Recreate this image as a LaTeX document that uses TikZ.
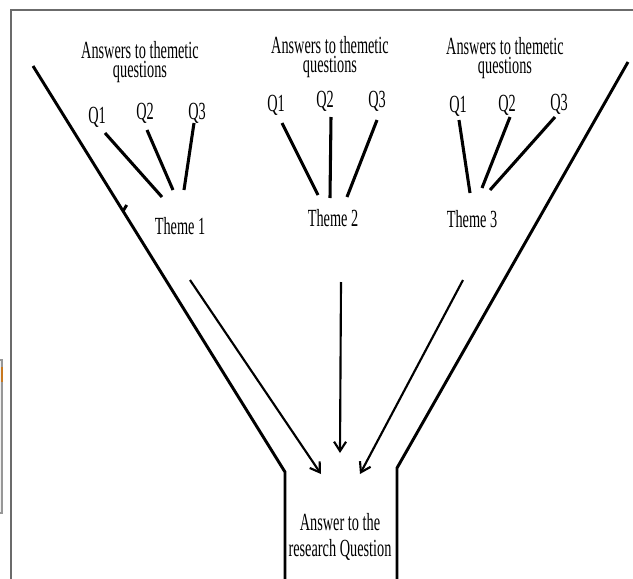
\documentclass[tikz,border=0pt]{standalone}
\usepackage{fontspec}
\setmainfont{Liberation Serif}[FakeStretch=0.58]
\usepackage{xcolor}
\usetikzlibrary{positioning, arrows.meta}
\definecolor{framegray}{HTML}{6B6B6B}
\definecolor{panelgray}{HTML}{F0F0F0}
\definecolor{panelmark}{HTML}{C8781E}
\tikzset{
  heading/.style={align=center, font=\fontsize{18.5}{14}\selectfont, inner sep=0pt},
  qtag/.style={anchor=base, font=\fontsize{18.5}{18.5}\selectfont, inner sep=0pt},
  theme/.style={anchor=base, font=\fontsize{18.5}{18.5}\selectfont, inner sep=0pt},
  answer/.style={align=center, font=\fontsize{18.5}{19}\selectfont, inner sep=0pt},
  funnel/.style={line width=2.2pt},
  qline/.style={line width=2.3pt},
  flow/.style={-{Straight Barb[length=7pt,width=9pt]}, line width=1.6pt},
  frame/.style={draw=framegray, line width=1.1pt},
}

\begin{document}
\begin{tikzpicture}[x=0.75pt, y=-0.75pt]
  \useasboundingbox (0,0) rectangle (633,579);

  % page frame and the edge of the panel beside it
  \draw[frame] (11,579) -- (11,10) -- (633,10);
  \draw[draw=framegray!70, fill=panelgray, line width=0.8pt] (-6,360) rectangle (2,513);
  \draw[panelmark, line width=1pt] (2,367) -- (2,382);

  % funnel walls
  \coordinate (ltop) at (33,66);
  \coordinate (lknee) at (285,472);
  \coordinate (lfoot) at (285,579);
  \coordinate (rtop) at (628,62);
  \coordinate (rknee) at (397,468);
  \coordinate (rfoot) at (397,579);
  \draw[funnel] (ltop) -- (lknee) -- (lfoot);
  \draw[funnel] (rtop) -- (rknee) -- (rfoot);
  \draw[funnel] (126.7,205) -- (123.3,210.7);

  % headings
  \node[heading] (head1) at (140,62) {Answers to themetic\\questions};
  \node[heading] (head2) at (330,57) {Answers to themetic\\questions};
  \node[heading] (head3) at (505,58) {Answers to themetic\\questions};

  % question tags
  \node[qtag] (q11) at (97,123) {Q1};
  \node[qtag] (q12) at (145,119) {Q2};
  \node[qtag] (q13) at (197,119) {Q3};
  \node[qtag] (q21) at (276,111) {Q1};
  \node[qtag] (q22) at (325,107) {Q2};
  \node[qtag] (q23) at (377,107) {Q3};
  \node[qtag] (q31) at (458,112) {Q1};
  \node[qtag] (q32) at (507,111) {Q2};
  \node[qtag] (q33) at (559,110) {Q3};

  % themes
  \node[theme] (th1) at (180,234) {Theme 1};
  \node[theme] (th2) at (333,226) {Theme 2};
  \node[theme] (th3) at (472,227) {Theme 3};

  % research question
  \node[answer] (ans) at (340,537) {Answer to the\\research Question};

  % questions into themes
  \draw[qline] ([shift={(8,10)}]q11.base) -- ([shift={(-18,-37)}]th1.base);
  \draw[qline] ([shift={(2,11)}]q12.base) -- ([shift={(-7,-44)}]th1.base);
  \draw[qline] ([shift={(-3,4)}]q13.base) -- ([shift={(4,-44)}]th1.base);
  \draw[qline] ([shift={(6,12)}]q21.base) -- ([shift={(-15,-31)}]th2.base);
  \draw[qline] ([shift={(6,10)}]q22.base) -- ([shift={(-3,-28)}]th2.base);
  \draw[qline] ([shift={(0,13)}]q23.base) -- ([shift={(14,-29)}]th2.base);
  \draw[qline] ([shift={(1,8)}]q31.base) -- ([shift={(-2,-34)}]th3.base);
  \draw[qline] ([shift={(3,6)}]q32.base) -- ([shift={(10,-39)}]th3.base);
  \draw[qline] ([shift={(-4,7)}]q33.base) -- ([shift={(18,-37)}]th3.base);

  % themes into the answer
  \draw[flow] ([shift={(10,46)}]th1.base) -- ([shift={(-19,-63)}]ans.center);
  \draw[flow] ([shift={(8,56)}]th2.base) -- ([shift={(0,-84)}]ans.center);
  \draw[flow] ([shift={(-9,53)}]th3.base) -- ([shift={(20,-63)}]ans.center);
\end{tikzpicture}
\end{document}
